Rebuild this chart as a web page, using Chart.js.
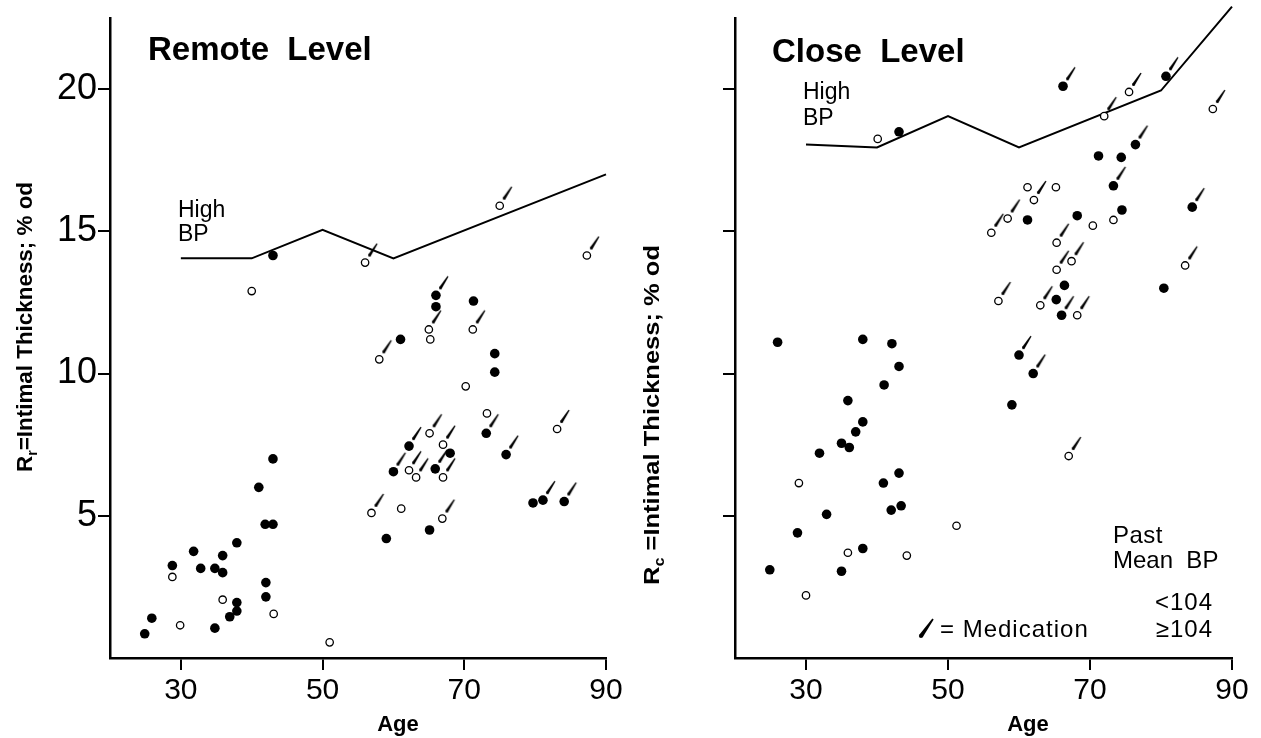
<!DOCTYPE html>
<html>
<head>
<meta charset="utf-8">
<script src="https://cdn.jsdelivr.net/npm/chart.js@4"></script>
<style>
  html, body { margin: 0; padding: 0; background: #fff; }
  #wrap { position: relative; width: 1261px; height: 738px; }
  .panel { position: absolute; top: 0; height: 738px; }
</style>
</head>
<body>
<div id="wrap">
  <div class="panel" style="left:0;width:630px"><canvas id="remote"></canvas></div>
  <div class="panel" style="left:630px;width:631px"><canvas id="close"></canvas></div>
</div>
<script>
const FONT = "'Liberation Sans', Arial, Helvetica, sans-serif";

const ageTicks = [30, 50, 70, 90];
const thickTicks = [5, 10, 15, 20];

// Remote level: age, thickness, past mean BP >= 104 (1 = filled), medication (1 = yes)
const remoteAge = [43, 40, 56, 75, 87.3, 66, 66, 71.3, 65, 65.2, 71.2, 61, 58, 74.3, 74.3, 70.2,
  73.2, 73.1, 83.1, 75.9, 65.1, 62.2, 67, 68, 60, 62.2, 63.2, 65.9, 67, 56.9, 61.1, 66.9, 65.1,
  59, 79.7, 81.1, 84.1, 51, 43, 41, 41.9, 43, 37.9, 31.8, 35.9, 28.8, 32.8, 34.8, 35.9, 28.8,
  42, 42, 35.9, 37.9, 37.9, 36.9, 43.1, 25.9, 29.9, 34.8, 24.9];
const remoteThick = [14.15, 12.9, 13.9, 15.9, 14.15, 12.75, 12.35, 12.55, 11.55, 11.2, 11.55, 11.2,
  10.5, 10.7, 10.05, 9.55, 8.6, 7.9, 8.05, 7.15, 7.9, 7.45, 7.5, 7.2, 6.55, 6.6, 6.35, 6.65, 6.35,
  5.1, 5.25, 4.9, 4.5, 4.2, 5.45, 5.55, 5.5, 0.55, 7.0, 6.0, 4.7, 4.7, 4.05, 3.75, 3.6, 3.25,
  3.15, 3.15, 3.0, 2.85, 2.65, 2.15, 2.05, 1.95, 1.65, 1.45, 1.55, 1.4, 1.15, 1.05, 0.85];
const remoteFilled = [1, 0, 0, 0, 0, 1, 1, 1, 0, 0, 0, 1, 0, 1, 1, 0, 0, 1, 0, 1, 0, 1, 0, 1, 1, 0,
  0, 1, 0, 0, 0, 0, 1, 1, 1, 1, 1, 0, 1, 1, 1, 1, 1, 1, 1, 1, 1, 1, 1, 0, 1, 1, 0, 1, 1, 1, 0, 1,
  0, 1, 1];
const remoteMed = [0, 0, 1, 1, 1, 1, 0, 0, 1, 0, 1, 0, 1, 0, 0, 0, 0, 1, 1, 1, 1, 1, 1, 0, 1, 1,
  1, 1, 1, 1, 0, 1, 0, 0, 0, 1, 1, 0, 0, 0, 0, 0, 0, 0, 0, 0, 0, 0, 0, 0, 0, 0, 0, 0, 0, 0, 0, 0,
  0, 0, 0];
const remoteHighAge = [30, 40, 50, 60, 90];
const remoteHighThick = [14.05, 14.05, 15.05, 14.05, 17];

// Close level
const closeAge = [40.1, 43.1, 56.1, 57.1, 26, 38, 42.1, 66.2, 75.5, 80.7, 72, 87.3, 76.4, 71.2,
  74.4, 73.3, 61.2, 62.1, 65.2, 58.4, 61.2, 68.2, 70.4, 73.3, 74.5, 84.4, 65.3, 67.4, 65.3, 83.4,
  66.4, 65.25, 66, 63, 68.2, 80.4, 60, 62, 59, 67, 43.1, 41, 35.9, 38, 37, 35, 36.1, 31.9, 29,
  40.9, 43.1, 32.9, 42, 43.4, 51.2, 28.8, 35.9, 38, 44.2, 24.9, 35, 30];
const closeThick = [18.25, 18.5, 14.95, 12.55, 11.1, 11.2, 11.05, 20.1, 19.9, 20.45, 19.05, 19.3,
  18.05, 17.65, 17.6, 16.6, 16.55, 16.1, 16.55, 15.45, 15.4, 15.55, 15.2, 15.4, 15.75, 15.85,
  14.6, 13.95, 13.65, 13.8, 13.1, 12.6, 12.05, 12.4, 12.05, 13.0, 10.65, 10.0, 8.9, 7.1, 10.25,
  9.6, 9.05, 8.3, 7.95, 7.55, 7.4, 7.2, 6.15, 6.15, 6.5, 5.05, 5.2, 5.35, 4.65, 4.4, 3.7, 3.85,
  3.6, 3.1, 3.05, 2.2];
const closeFilled = [0, 1, 0, 0, 1, 1, 1, 1, 0, 1, 0, 0, 1, 1, 1, 1, 0, 0, 0, 0, 1, 1, 0, 0, 1, 1,
  0, 0, 0, 0, 1, 1, 1, 0, 0, 1, 1, 1, 1, 0, 1, 1, 1, 1, 1, 1, 1, 1, 0, 1, 1, 1, 1, 1, 0, 1, 0, 1,
  0, 1, 1, 0];
const closeMed = [0, 0, 1, 1, 0, 0, 0, 1, 1, 1, 1, 1, 1, 0, 0, 1, 0, 1, 0, 1, 0, 0, 0, 0, 0, 1,
  1, 1, 1, 1, 0, 0, 1, 1, 1, 0, 1, 1, 0, 1, 0, 0, 0, 0, 0, 0, 0, 0, 0, 0, 0, 0, 0, 0, 0, 0, 0, 0,
  0, 0, 0, 0];
const closeHighAge = [30, 40, 50, 60, 80, 90];
const closeHighThick = [18.05, 17.95, 19.05, 17.95, 19.95, 22.9];

// tapered pen stroke used for the medication tick
function drawSlash(ctx, x0, y0, dx, dy, w0, w1) {
  const len = Math.hypot(dx, dy), nx = -dy / len, ny = dx / len;
  ctx.beginPath();
  ctx.moveTo(x0 + nx * w0 / 2, y0 + ny * w0 / 2);
  ctx.lineTo(x0 + dx + nx * w1 / 2, y0 + dy + ny * w1 / 2);
  ctx.lineTo(x0 + dx - nx * w1 / 2, y0 + dy - ny * w1 / 2);
  ctx.lineTo(x0 - nx * w0 / 2, y0 - ny * w0 / 2);
  ctx.closePath();
  ctx.fill();
  ctx.beginPath();
  ctx.arc(x0, y0, w0 / 2, 0, Math.PI * 2);
  ctx.fill();
}

const medMark = document.createElement('canvas');
medMark.width = 40;
medMark.height = 40;
(function () {
  const g = medMark.getContext('2d');
  g.fillStyle = '#000';
  drawSlash(g, 24.5, 12.5, 7.5, -11.5, 3.0, 1.3);
})();

function pts(ages, vals, keep) {
  const out = [];
  ages.forEach((a, i) => { if (keep(i)) out.push({ x: a, y: vals[i] }); });
  return out;
}

function drawYTitle(ctx, it) {
  const big = 'bold 22px ' + FONT, small = 'bold 14px ' + FONT;
  ctx.save();
  ctx.translate(it.x, it.y);
  ctx.rotate(-Math.PI / 2);
  ctx.font = big;
  const w1 = ctx.measureText(it.main).width, w3 = ctx.measureText(it.rest).width;
  ctx.font = small;
  const w2 = ctx.measureText(it.sub).width;
  const total = w1 + w2 + w3;
  ctx.scale(it.len / total, 1);
  ctx.textAlign = 'left';
  ctx.textBaseline = 'alphabetic';
  let x = -total / 2;
  ctx.font = big; ctx.fillText(it.main, x, 8); x += w1;
  ctx.font = small; ctx.fillText(it.sub, x, 13); x += w2;
  ctx.font = big; ctx.fillText(it.rest, x, 8);
  ctx.restore();
}

const panelText = {
  remote: [
    { text: 'Remote  Level', x: 148, y: 60, font: 'bold 33px ' + FONT },
    { text: 'High', x: 178, y: 217, font: '23px ' + FONT },
    { text: 'BP', x: 178, y: 241, font: '23px ' + FONT },
    { text: 'Age', x: 398, y: 731, font: 'bold 22px ' + FONT, align: 'center' },
    { yTitle: true, main: 'R', sub: 'r', rest: '=Intimal Thickness; % od', x: 24, y: 327, len: 290 }
  ],
  close: [
    { text: 'Close  Level', x: 142, y: 62, font: 'bold 33px ' + FONT },
    { text: 'High', x: 173, y: 99, font: '23px ' + FONT },
    { text: 'BP', x: 173, y: 125, font: '23px ' + FONT },
    { text: 'Past', x: 483, y: 543, font: '24px ' + FONT, spacing: '0.5px' },
    { text: 'Mean  BP', x: 483, y: 568, font: '24px ' + FONT },
    { text: '<104', x: 583, y: 610, font: '24px ' + FONT, align: 'right', spacing: '1px' },
    { text: '\u2265104', x: 583, y: 637, font: '24px ' + FONT, align: 'right', spacing: '1px' },
    { text: '= Medication', x: 310, y: 637, font: '24px ' + FONT, spacing: '1px' },
    { medIcon: true, x: 291, y: 636 },
    { text: 'Age', x: 398, y: 731, font: 'bold 22px ' + FONT, align: 'center' },
    { yTitle: true, main: 'R', sub: 'c', rest: ' =Intimal Thickness; % od', x: 21, y: 415, len: 340 }
  ]
};

const paperText = {
  id: 'paperText',
  afterDraw(chart) {
    const ctx = chart.ctx;
    ctx.save();
    ctx.fillStyle = '#000';
    panelText[chart.canvas.id].forEach(it => {
      if (it.yTitle) { drawYTitle(ctx, it); return; }
      if (it.medIcon) { drawSlash(ctx, it.x, it.y, 12, -17, 4.2, 1.6); return; }
      ctx.font = it.font;
      ctx.letterSpacing = it.spacing || '0px';
      ctx.textAlign = it.align || 'left';
      ctx.textBaseline = 'alphabetic';
      ctx.fillText(it.text, it.x, it.y);
    });
    ctx.restore();
  }
};

function makeChart(id, ages, vals, filled, med, highAge, highVals, yWidth, padRight, showYLabels) {
  const axisGrid = { drawOnChartArea: false, drawTicks: true, tickLength: 12, color: '#000', lineWidth: 2 };
  const axisBorder = { display: true, color: '#000', width: 2.5 };
  return new Chart(document.getElementById(id), {
    type: 'scatter',
    data: {
      datasets: [{
        data: pts(ages, vals, i => filled[i] === 1),
        pointStyle: 'circle', pointRadius: 4.8, pointBackgroundColor: '#000', pointBorderWidth: 0
      }, {
        data: pts(ages, vals, i => filled[i] === 0),
        pointStyle: 'circle', pointRadius: 3.7, pointBackgroundColor: '#fff',
        pointBorderColor: '#000', pointBorderWidth: 1.3
      }, {
        data: pts(ages, vals, i => med[i] === 1),
        pointStyle: medMark, pointRadius: 3
      }, {
        type: 'line',
        data: highAge.map((a, i) => ({ x: a, y: highVals[i] })),
        borderColor: '#000', borderWidth: 2, pointRadius: 0, tension: 0, fill: false, clip: false
      }]
    },
    options: {
      responsive: true,
      maintainAspectRatio: false,
      animation: false,
      devicePixelRatio: 1,
      events: [],
      layout: { padding: { top: 18, right: padRight, left: 0, bottom: 0 } },
      plugins: { legend: { display: false }, tooltip: { enabled: false } },
      scales: {
        x: {
          type: 'linear', min: 20, max: 90,
          afterBuildTicks: s => { s.ticks = ageTicks.map(v => ({ value: v })); },
          afterFit: s => { s.height = 80; s.paddingLeft = 0; s.paddingRight = 0; },
          grid: axisGrid, border: axisBorder,
          ticks: { color: '#000', font: { family: FONT, size: 30 }, padding: 3, maxRotation: 0, autoSkip: false }
        },
        y: {
          type: 'linear', min: 0, max: 22.5,
          afterBuildTicks: s => { s.ticks = thickTicks.map(v => ({ value: v })); },
          afterFit: s => { s.width = yWidth; s.paddingTop = 0; s.paddingBottom = 0; },
          grid: axisGrid, border: axisBorder,
          ticks: { display: showYLabels, color: '#000', font: { family: FONT, size: 36 }, padding: 1 }
        }
      }
    },
    plugins: [paperText]
  });
}

makeChart('remote', remoteAge, remoteThick, remoteFilled, remoteMed, remoteHighAge, remoteHighThick, 110, 24, true);
makeChart('close', closeAge, closeThick, closeFilled, closeMed, closeHighAge, closeHighThick, 105, 29, false);
</script>
</body>
</html>
